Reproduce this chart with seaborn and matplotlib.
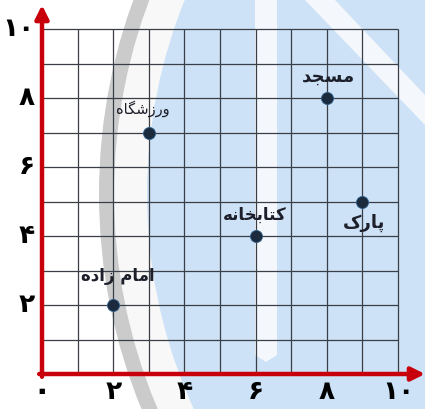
import numpy as np
import pandas as pd
import matplotlib
matplotlib.use("Agg")
import matplotlib.pyplot as plt
from matplotlib.patches import Ellipse, Polygon
import seaborn as sns

# ---- data ----
places = ["امام زاده", "ورزشگاه", "کتابخانه", "مسجد", "پارک"]
x_vals = [2, 3, 6, 8, 9]
y_vals = [2, 7, 4, 8, 5]
label_dx = [0.12, -0.17, -0.03, 0.06, 0.06]
label_dy = [0.84, 0.68, 0.62, 0.62, -0.62]
label_size = [12, 10.5, 12, 13, 13]
label_weight = ['bold', 'normal', 'bold', 'bold', 'bold']
x_tick_vals = [0, 2, 4, 6, 8, 10]
x_tick_labels = ["۰", "۲", "۴", "۶", "۸", "۱۰"]
y_tick_vals = [2, 4, 6, 8, 10]
y_tick_labels = ["۲", "۴", "۶", "۸", "۱۰"]
grid_vals = list(range(0, 11))

# ---- minimal Persian shaping (presentation forms + RTL) ----
FORMS = {
    'ا': ('\uFE8D', '\uFE8E', None, None),
    'ب': ('\uFE8F', '\uFE90', '\uFE91', '\uFE92'),
    'ت': ('\uFE95', '\uFE96', '\uFE97', '\uFE98'),
    'ج': ('\uFE9D', '\uFE9E', '\uFE9F', '\uFEA0'),
    'خ': ('\uFEA5', '\uFEA6', '\uFEA7', '\uFEA8'),
    'د': ('\uFEA9', '\uFEAA', None, None),
    'ر': ('\uFEAD', '\uFEAE', None, None),
    'ز': ('\uFEAF', '\uFEB0', None, None),
    'س': ('\uFEB1', '\uFEB2', '\uFEB3', '\uFEB4'),
    'ش': ('\uFEB5', '\uFEB6', '\uFEB7', '\uFEB8'),
    'م': ('\uFEE1', '\uFEE2', '\uFEE3', '\uFEE4'),
    'ن': ('\uFEE5', '\uFEE6', '\uFEE7', '\uFEE8'),
    'ه': ('\uFEE9', '\uFEEA', '\uFEEB', '\uFEEC'),
    'و': ('\uFEED', '\uFEEE', None, None),
    'پ': ('\uFB56', '\uFB57', '\uFB58', '\uFB59'),
    'ک': ('\uFB8E', '\uFB8F', '\uFB90', '\uFB91'),
    'گ': ('\uFB92', '\uFB93', '\uFB94', '\uFB95'),
}


def dual(c):
    return c in FORMS and FORMS[c][2] is not None


def shape(text):
    out = []
    for i, c in enumerate(text):
        if c not in FORMS:
            out.append(c)
            continue
        prev = text[i - 1] if i > 0 else None
        nxt = text[i + 1] if i + 1 < len(text) else None
        jp = prev is not None and dual(prev)
        jn = dual(c) and nxt is not None and nxt in FORMS
        f = FORMS[c]
        if jp and jn:
            out.append(f[3])
        elif jp:
            out.append(f[1])
        elif jn:
            out.append(f[2])
        else:
            out.append(f[0])
    return ''.join(reversed(out))


sns.set_theme(style="white")
plt.rcParams['font.family'] = ['DejaVu Sans']

W, H = 425, 409
fig = plt.figure(figsize=(W / 100, H / 100), dpi=100)
fig.patch.set_facecolor('white')


# ---- faint watermark background (decoration) ----
def fx(x):
    return x / W


def fy(y):
    return 1 - y / H


cx, cy, R = 665, 194, 518
for rad, col in [(R + 48, '#cbcbcb'), (R + 33, '#f8f8f8'), (R, '#cde2f6')]:
    fig.add_artist(Ellipse((fx(cx), fy(cy)), 2 * rad / W, 2 * rad / H,
                           transform=fig.transFigure, facecolor=col,
                           edgecolor='none', zorder=-5))
stripe = [(255, 0), (277, 0), (277, 355), (266, 362), (255, 355)]
fig.add_artist(Polygon([(fx(a), fy(b)) for a, b in stripe], closed=True,
                       transform=fig.transFigure, facecolor='#f4f8fc',
                       edgecolor='none', zorder=-4))
diag = [(305, 0), (335, 0), (425, 95), (425, 125)]
fig.add_artist(Polygon([(fx(a), fy(b)) for a, b in diag], closed=True,
                       transform=fig.transFigure, facecolor='#f4f8fc',
                       edgecolor='none', zorder=-4))

# ---- axes ----
ax = fig.add_axes([42 / W, (H - 374) / H, (W - 42) / W, (374 - 5) / H])
ax.patch.set_alpha(0)
ax.set_xlim(0, (W - 42) / 35.6)
ax.set_ylim(0, (374 - 5) / 34.5)
for s in ax.spines.values():
    s.set_visible(False)
ax.set_xticks([])
ax.set_yticks([])

ax.vlines(grid_vals, 0, 10, colors='#3a3f47', linewidth=0.9, zorder=1)
ax.hlines(grid_vals, 0, 10, colors='#3a3f47', linewidth=0.9, zorder=1)

red = '#c8000c'
ax.annotate('', xy=(ax.get_xlim()[1], 0), xytext=(-0.08, 0),
            arrowprops=dict(arrowstyle='-|>', color=red, lw=3.2,
                            mutation_scale=20, shrinkA=0, shrinkB=0),
            annotation_clip=False, zorder=3)
ax.annotate('', xy=(0, ax.get_ylim()[1]), xytext=(0, -0.08),
            arrowprops=dict(arrowstyle='-|>', color=red, lw=3.2,
                            mutation_scale=20, shrinkA=0, shrinkB=0),
            annotation_clip=False, zorder=3)

df = pd.DataFrame({'x': x_vals, 'y': y_vals, 'place': places})
sns.scatterplot(data=df, x='x', y='y', ax=ax, s=75, color='#1b2a3c',
                edgecolor='#2f5f8f', linewidth=0.6, zorder=4, legend=False)
ax.set_xlabel('')
ax.set_ylabel('')

for xv, yv, name, dx, dy, fs, fw in zip(x_vals, y_vals, places, label_dx,
                                        label_dy, label_size, label_weight):
    ax.text(xv + dx, yv + dy, shape(name), ha='center', va='center',
            fontsize=fs, fontweight=fw, color='#1d1f2b', zorder=5)

for v, t in zip(y_tick_vals, y_tick_labels):
    ax.text(-0.2, v, t, ha='right', va='center', fontsize=19,
            fontweight='bold', color='black', clip_on=False)
for v, t in zip(x_tick_vals, x_tick_labels):
    ax.text(v, -0.52, t, ha='center', va='center',
            fontsize=22 if t == "۰" else 19,
            fontweight='bold', color='black', clip_on=False)

fig.savefig('out.png', dpi=100)
